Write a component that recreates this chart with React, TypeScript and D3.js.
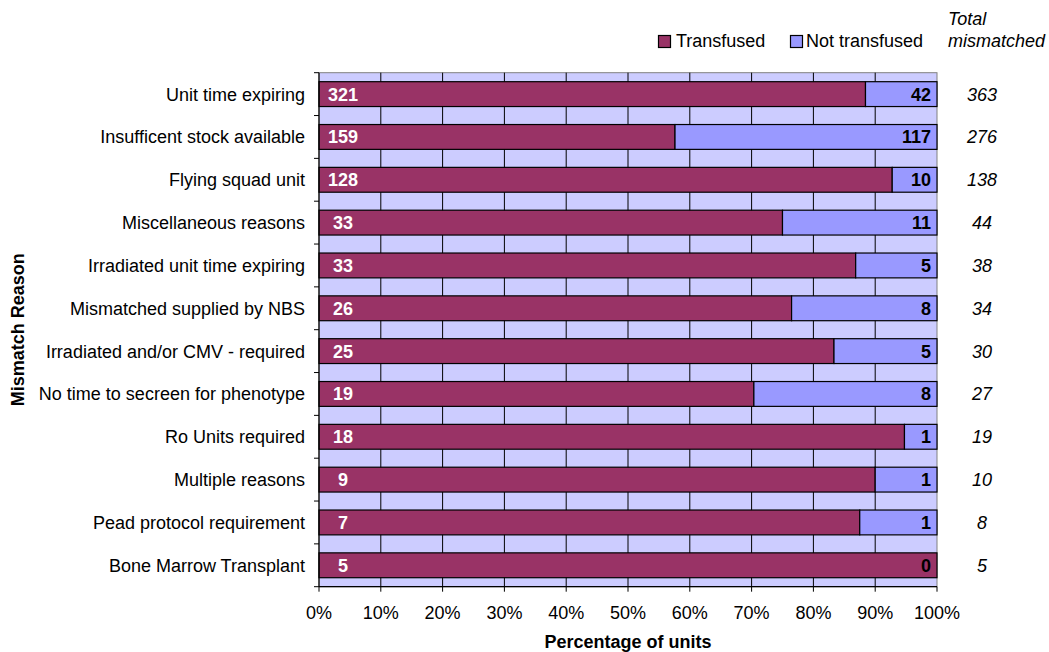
import React from "react";
import * as d3 from "d3";

const reasons = [
  "Unit time expiring",
  "Insufficent stock available",
  "Flying squad unit",
  "Miscellaneous reasons",
  "Irradiated unit time expiring",
  "Mismatched supplied by NBS",
  "Irradiated and/or CMV - required",
  "No time to secreen for phenotype",
  "Ro Units required",
  "Multiple reasons",
  "Pead protocol requirement",
  "Bone Marrow Transplant",
];
const transfused = [321, 159, 128, 33, 33, 26, 25, 19, 18, 9, 7, 5];
const notTransfused = [42, 117, 10, 11, 5, 8, 5, 8, 1, 1, 1, 0];
const totals = [363, 276, 138, 44, 38, 34, 30, 27, 19, 10, 8, 5];
const pctTicks = [0, 0.1, 0.2, 0.3, 0.4, 0.5, 0.6, 0.7, 0.8, 0.9, 1];

const W = 1049;
const H = 652;
const FONT = "Arial, 'Liberation Sans', Helvetica, sans-serif";
const FS = 18;
const MAROON = "#993366";
const BLUE = "#9999FF";
const BG = "#CCCCFF";

export default function App() {
  const left = 319;
  const right = 937;
  const top = 72.7;
  const bottom = 586.7;

  const x = d3.scaleLinear().domain([0, 1]).range([left, right]);
  const y = d3
    .scaleBand<string>()
    .domain(reasons)
    .range([top, bottom])
    .paddingInner(0.42)
    .paddingOuter(0.21);
  const step = (bottom - top) / reasons.length;

  return (
    <svg
      width={W}
      height={H}
      style={{ position: "absolute", left: 0, top: 0, display: "block" }}
      fontFamily={FONT}
    >
      <rect x={0} y={0} width={W} height={H} fill="#fff" />

      {/* plot background */}
      <rect x={left} y={top} width={right - left} height={bottom - top} fill={BG} stroke="#808080" strokeWidth={1} />

      {/* vertical gridlines */}
      {pctTicks.slice(1, -1).map((t) => (
        <line key={t} x1={x(t)} x2={x(t)} y1={top} y2={bottom} stroke="#000" strokeWidth={1} />
      ))}

      {/* stacked bars */}
      {reasons.map((r, i) => {
        const tot = transfused[i] + notTransfused[i];
        const p = transfused[i] / tot;
        const y0 = y(r)!;
        const bh = y.bandwidth();
        const cy = y0 + bh / 2 + 6.5;
        return (
          <g key={r}>
            <rect x={x(0)} y={y0} width={x(p) - x(0)} height={bh} fill={MAROON} stroke="#000" strokeWidth={1.2} />
            {notTransfused[i] > 0 && (
              <rect x={x(p)} y={y0} width={x(1) - x(p)} height={bh} fill={BLUE} stroke="#000" strokeWidth={1.2} />
            )}
            <text x={x(0) + 24} y={cy} fill="#fff" fontWeight="bold" fontSize={FS} textAnchor="middle">
              {transfused[i]}
            </text>
            <text x={x(1) - 6} y={cy} fill="#000" fontWeight="bold" fontSize={FS} textAnchor="end">
              {notTransfused[i]}
            </text>
            <text x={982} y={cy} fill="#000" fontStyle="italic" fontSize={FS} textAnchor="middle">
              {totals[i]}
            </text>
            <text x={305} y={cy} fill="#000" fontSize={FS} textAnchor="end">
              {r}
            </text>
          </g>
        );
      })}

      {/* axes */}
      <line x1={left} x2={left} y1={top} y2={bottom} stroke="#000" strokeWidth={1.2} />
      <line x1={left} x2={right} y1={bottom} y2={bottom} stroke="#000" strokeWidth={1.2} />
      {d3.range(reasons.length + 1).map((k) => (
        <line key={k} x1={left - 5} x2={left} y1={top + k * step} y2={top + k * step} stroke="#000" strokeWidth={1} />
      ))}
      {pctTicks.map((t) => (
        <g key={t}>
          <line x1={x(t)} x2={x(t)} y1={bottom} y2={bottom + 5} stroke="#000" strokeWidth={1} />
          <text x={x(t)} y={619} fontSize={FS} textAnchor="middle" fill="#000">
            {d3.format(".0%")(t)}
          </text>
        </g>
      ))}

      <text x={(left + right) / 2} y={648} fontSize={FS} fontWeight="bold" textAnchor="middle">
        Percentage of units
      </text>
      <text
        transform={`translate(24, ${(top + bottom) / 2}) rotate(-90)`}
        fontSize={FS}
        fontWeight="bold"
        textAnchor="middle"
      >
        Mismatch Reason
      </text>

      {/* legend */}
      <rect x={658.5} y={35.5} width={12} height={12} fill={MAROON} stroke="#000" strokeWidth={1.2} />
      <text x={676} y={47} fontSize={FS}>Transfused</text>
      <rect x={790.5} y={35.5} width={12} height={12} fill={BLUE} stroke="#000" strokeWidth={1.2} />
      <text x={806} y={47} fontSize={FS}>Not transfused</text>

      <text x={948} y={25} fontSize={FS} fontStyle="italic">Total</text>
      <text x={948} y={47} fontSize={FS} fontStyle="italic">mismatched</text>
    </svg>
  );
}
